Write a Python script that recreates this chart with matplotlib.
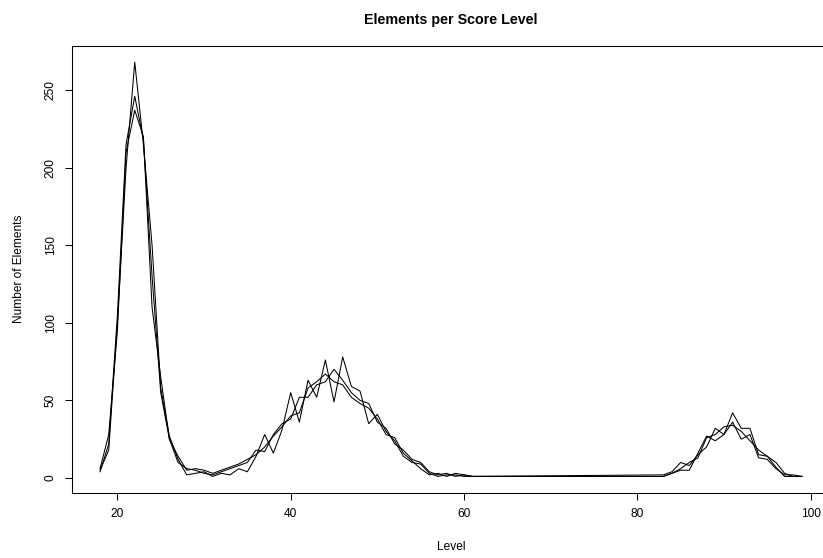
import numpy as np
import matplotlib
matplotlib.use('Agg')
from matplotlib import pyplot as plt

# score levels (no data between 61 and 83)
levels = list(range(18, 62)) + list(range(83, 100))

counts_a = [5, 18, 100, 200, 268, 215, 150, 58, 27, 12, 2, 3, 4, 1, 3, 2, 6, 4,
            14, 28, 16, 31, 55, 36, 63, 52, 76, 49, 78, 59, 56, 35, 41, 30, 24, 14, 10, 9, 3, 1, 2, 2, 1, 1,
            1, 3, 5, 5, 16, 27, 24, 28, 42, 32, 32, 15, 14, 7, 1, 1, 1]
counts_b = [4, 22, 105, 215, 246, 218, 130, 55, 25, 10, 6, 5, 3, 2, 4, 6, 8, 10,
            18, 17, 28, 35, 38, 52, 52, 60, 62, 70, 63, 55, 50, 48, 36, 32, 22, 18, 12, 10, 4, 2, 3, 1, 2, 1,
            2, 4, 10, 8, 15, 20, 32, 28, 36, 25, 28, 13, 12, 6, 2, 2, 1]
counts_c = [6, 28, 95, 210, 237, 220, 110, 65, 25, 14, 5, 6, 5, 3, 5, 7, 9, 12,
            15, 20, 27, 33, 40, 42, 58, 62, 67, 62, 60, 52, 48, 45, 38, 28, 26, 16, 11, 6, 2, 3, 1, 3, 2, 1,
            1, 3, 6, 10, 13, 26, 28, 33, 34, 30, 24, 18, 14, 10, 3, 1, 1]

xticks = [20, 40, 60, 80, 100]
yticks = [0, 50, 100, 150, 200, 250]

plt.rcParams['font.family'] = ['Liberation Sans', 'DejaVu Sans']

W, H = 823, 558
fig = plt.figure(figsize=(W / 100, H / 100), dpi=100)
# plot region runs past the right edge of the figure, as in the original
ax = fig.add_axes([72 / W, (H - 493) / H, (830 - 72) / W, (493 - 45.5) / H])

for c in (counts_a, counts_b, counts_c):
    ax.plot(levels, c, color='black', lw=0.75)

# R style 4% padding
allv = counts_a + counts_b + counts_c
xr = max(levels) - min(levels)
yr = max(allv) - min(allv)
ax.set_xlim(min(levels) - 0.04 * xr, max(levels) + 0.04 * xr)
ax.set_ylim(min(allv) - 0.04 * yr, max(allv) + 0.04 * yr)

ax.set_xticks(xticks)
ax.set_yticks(yticks)
ax.set_yticklabels([str(v) for v in yticks], rotation=90, va='center')
ax.tick_params(direction='out', length=5, width=0.75, labelsize=8.6, pad=6, color='black')
for s in ax.spines.values():
    s.set_linewidth(0.75)

ax.set_xlabel('Level', fontsize=8.6)
ax.set_ylabel('Number of Elements', fontsize=8.6)
ax.xaxis.set_label_coords(0.5, -48 / (493 - 45.5), transform=ax.transAxes)
ax.yaxis.set_label_coords(-47 / (830 - 72), 0.5, transform=ax.transAxes)

fig.text(451 / W, 1 - 20 / H, 'Elements per Score Level', ha='center', va='center',
         fontsize=10.3, fontweight='bold')

fig.savefig('out.png', dpi=100)
